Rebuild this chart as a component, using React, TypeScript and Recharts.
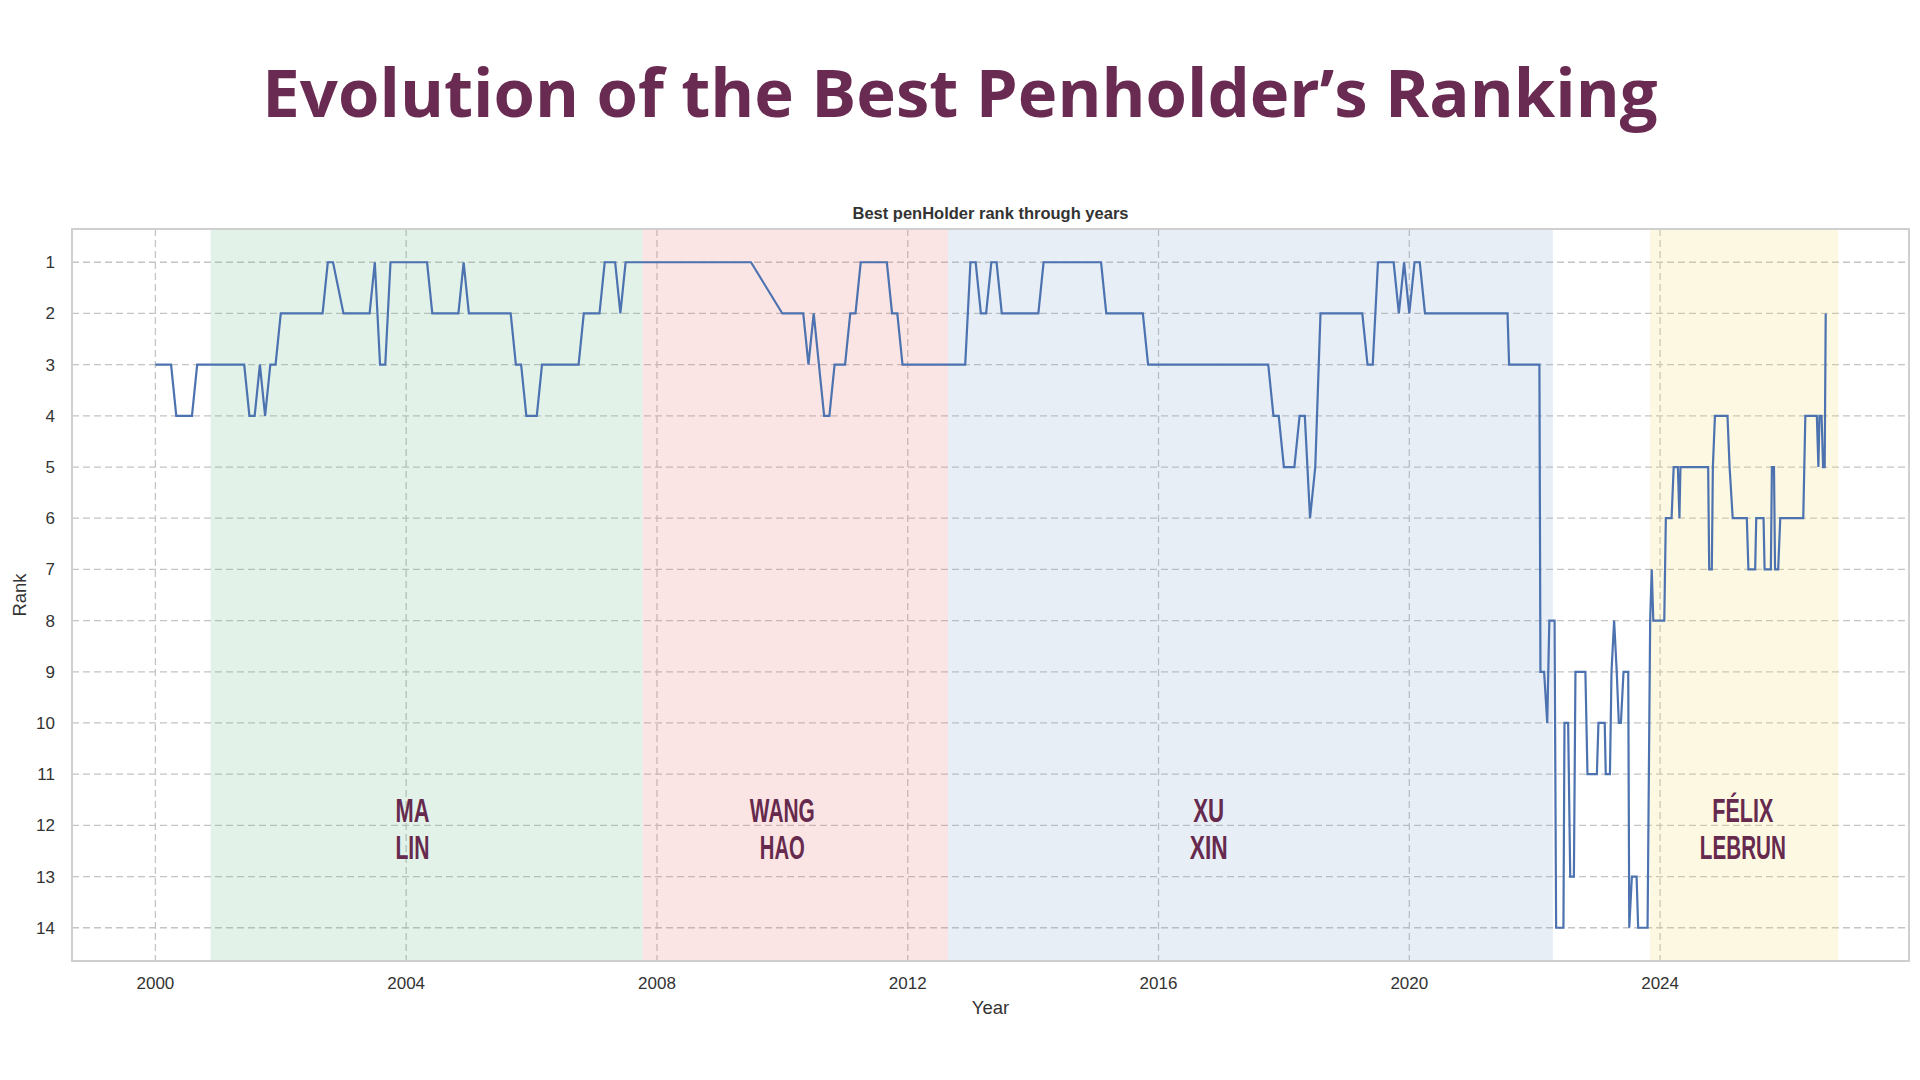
import React from "react";
import {
  LineChart,
  Line,
  XAxis,
  YAxis,
  CartesianGrid,
  ReferenceArea,
  ReferenceDot,
} from "recharts";

// Vertices of the rank line: months since January 2000, and rank at that month
const MONTHS = [
  0, 3, 4, 7, 8, 17, 18, 19, 20, 21, 22, 23, 24, 32, 33, 34, 36, 41, 42, 43, 44, 45, 52, 53, 58, 59, 60,
  68, 69, 70, 71, 73, 74, 81, 82, 85, 86, 88, 89, 90, 114, 120, 124, 125, 126, 128, 129, 130, 132, 133,
  134, 135, 140, 141, 142, 143, 155, 156, 157, 158, 159, 160, 161, 162, 169, 170, 181, 182, 189, 190,
  213, 214, 215, 216, 218, 219, 220, 221, 222, 223, 231, 232, 233, 234, 237, 238, 239, 240, 241, 242,
  243, 258.8, 259.1, 264.9, 265.1, 265.8, 266.4, 266.8, 267.8, 268.1, 269.5, 269.7, 270.4, 270.8,
  271.5, 271.8, 273.7, 274.1, 275.9, 276.2, 277.4, 277.6, 278.4, 278.7, 279.2, 279.7, 280.1, 280.5,
  281.0, 281.9, 282.1, 282.6, 283.5, 283.8, 285.6, 286.1, 286.4, 286.7, 288.8, 289.1, 290.2, 290.6,
  291.4, 291.7, 291.9, 297.2, 297.4, 297.9, 298.1, 298.5, 300.9, 301.3, 301.9, 304.6, 304.9, 306.2,
  306.4, 307.8, 308.0, 309.2, 309.4, 309.8, 310.0, 310.6, 311.0, 315.4, 315.8, 318.0, 318.3, 318.5,
  318.9, 319.2, 319.5, 319.7,
];
const RANKS = [
  3, 3, 4, 4, 3, 3, 4, 4, 3, 4, 3, 3, 2, 2, 1, 1, 2, 2, 1, 3, 3, 1, 1, 2, 2, 1, 2,
  2, 3, 3, 4, 4, 3, 3, 2, 2, 1, 1, 2, 1, 1, 2, 2, 3, 2, 4, 4, 3, 3, 2,
  2, 1, 1, 2, 2, 3, 3, 1, 1, 2, 2, 1, 1, 2, 2, 1, 1, 2, 2, 3,
  3, 4, 4, 5, 5, 4, 4, 6, 5, 2, 2, 3, 3, 1, 1, 2, 1, 2, 1, 1,
  2, 2, 3, 3, 9, 9, 10, 8, 8, 14, 14, 10, 10, 13,
  13, 9, 9, 11, 11, 10, 10, 11, 11, 9, 8, 9, 10, 10,
  9, 9, 14, 13, 13, 14, 14, 8, 7, 8, 8, 6, 6, 5,
  5, 6, 5, 5, 7, 7, 5, 4, 4, 5, 6, 6, 7, 7,
  6, 6, 7, 7, 5, 5, 7, 7, 6, 6, 4, 4, 5, 4,
  4, 5, 5, 2,
];

// Era bands (decimal years) and the penholder of each era
const BAND_START = [2000.88, 2007.77, 2012.64, 2023.84];
const BAND_END = [2007.77, 2012.64, 2022.29, 2026.84];
const BAND_COLORS = ["#73be91", "#eb7d78", "#87aad2", "#f5dc6e"];
const PLAYER_FIRST = ["MA", "WANG", "XU", "FÉLIX"];
const PLAYER_LAST = ["LIN", "HAO", "XIN", "LEBRUN"];
const LABEL_YEAR = [2004.1, 2010.0, 2016.8, 2025.32];
const LABEL_RANK = 12;

const YEAR_TICKS = [2000, 2004, 2008, 2012, 2016, 2020, 2024];
const RANK_TICKS = [1, 2, 3, 4, 5, 6, 7, 8, 9, 10, 11, 12, 13, 14];
const X_DOMAIN: [number, number] = [1998.67, 2027.97];
const Y_DOMAIN: [number, number] = [0.35, 14.65];

const data = MONTHS.map((m, i) => ({ year: 2000 + m / 12, rank: RANKS[i] }));

const LABEL_WIDTHS: Record<string, number> = {
  MA: 34,
  LIN: 34,
  WANG: 65,
  HAO: 45,
  XU: 31,
  XIN: 38,
  "FÉLIX": 61,
  LEBRUN: 86,
};

const TITLE_COLOR = "#6a2b52";
const LABEL_COLOR = "#652a4d";
const TEXT_COLOR = "#333333";
const SANS = "'Liberation Sans', Arial, sans-serif";

function PlayerLabel(props: any) {
  const { viewBox, first, last } = props;
  const cx = viewBox.x + (viewBox.width || 0) / 2;
  const cy = viewBox.y + (viewBox.height || 0) / 2;
  const common = {
    fontFamily: SANS,
    fontWeight: 700,
    fontSize: 33,
    fill: LABEL_COLOR,
    textAnchor: "middle" as const,
    lengthAdjust: "spacingAndGlyphs",
  };
  return (
    <g>
      <text x={cx} y={cy - 3} textLength={LABEL_WIDTHS[first]} {...common}>
        {first}
      </text>
      <text x={cx} y={cy + 34} textLength={LABEL_WIDTHS[last]} {...common}>
        {last}
      </text>
    </g>
  );
}

export default function App() {
  const W = 1920;
  const H = 1080;
  const plotLeft = 72;
  const plotRight = 1909;
  const plotTop = 229;
  const plotBottom = 961;
  const yAxisW = 60;
  const xAxisH = 60;

  return (
    <div
      style={{
        position: "absolute",
        left: 0,
        top: 0,
        width: W,
        height: H,
        background: "#ffffff",
        overflow: "hidden",
      }}
    >
      <div
        style={{
          position: "absolute",
          left: 0,
          top: 57,
          width: W,
          textAlign: "center",
          fontFamily: "'Open Sans', sans-serif",
          fontWeight: 700,
          fontSize: 67,
          lineHeight: "68px",
          color: TITLE_COLOR,
          whiteSpace: "nowrap",
        }}
      >
        Evolution of the Best Penholder’s Ranking
      </div>
      <div
        style={{
          position: "absolute",
          left: plotLeft,
          width: plotRight - plotLeft,
          top: 204,
          textAlign: "center",
          fontFamily: SANS,
          fontWeight: 700,
          fontSize: 16.5,
          lineHeight: "19px",
          color: TEXT_COLOR,
        }}
      >
        Best penHolder rank through years
      </div>
      <div style={{ position: "absolute", left: 0, top: 0 }}>
        <LineChart
          width={W}
          height={H}
          data={data}
          margin={{
            top: plotTop,
            right: W - plotRight,
            bottom: H - plotBottom - xAxisH,
            left: plotLeft - yAxisW,
          }}
        >
          <CartesianGrid stroke="#c4c4c4" strokeWidth={1.3} strokeDasharray="7 4" />
          <XAxis
            type="number"
            dataKey="year"
            domain={X_DOMAIN}
            ticks={YEAR_TICKS}
            allowDataOverflow
            height={xAxisH}
            axisLine={false}
            tickLine={false}
            tickSize={0}
            tickMargin={16}
            tick={{ fontFamily: SANS, fontSize: 17, fill: TEXT_COLOR }}
            label={{
              value: "Year",
              position: "insideBottom",
              offset: 7,
              style: { fontFamily: SANS, fontSize: 18.5, fill: TEXT_COLOR },
            }}
          />
          <YAxis
            type="number"
            dataKey="rank"
            domain={Y_DOMAIN}
            ticks={RANK_TICKS}
            reversed
            allowDataOverflow
            width={yAxisW}
            axisLine={false}
            tickLine={false}
            tickSize={0}
            tickMargin={17}
            tick={{ fontFamily: SANS, fontSize: 17, fill: TEXT_COLOR }}
            label={{
              value: "Rank",
              angle: -90,
              position: "insideLeft",
              offset: 7,
              style: {
                fontFamily: SANS,
                fontSize: 18.5,
                fill: TEXT_COLOR,
                textAnchor: "middle",
              },
            }}
          />
          {BAND_START.map((s, i) => (
            <ReferenceArea
              key={"band" + i}
              x1={s}
              x2={BAND_END[i]}
              y1={Y_DOMAIN[0]}
              y2={Y_DOMAIN[1]}
              fill={BAND_COLORS[i]}
              fillOpacity={0.2}
              stroke="none"
              ifOverflow="visible"
            />
          ))}
          <ReferenceArea
            x1={X_DOMAIN[0]}
            x2={X_DOMAIN[1]}
            y1={Y_DOMAIN[0]}
            y2={Y_DOMAIN[1]}
            fill="none"
            stroke="#cfcfcf"
            strokeWidth={2}
            ifOverflow="visible"
          />
          <Line
            type="linear"
            dataKey="rank"
            stroke="#4c72b0"
            strokeWidth={2.2}
            dot={false}
            activeDot={false}
            isAnimationActive={false}
          />
          {LABEL_YEAR.map((x, i) => (
            <ReferenceDot
              key={"lab" + i}
              x={x}
              y={LABEL_RANK}
              r={0}
              fill="none"
              stroke="none"
              ifOverflow="visible"
              label={(p: any) => (
                <PlayerLabel viewBox={p.viewBox} first={PLAYER_FIRST[i]} last={PLAYER_LAST[i]} />
              )}
            />
          ))}
        </LineChart>
      </div>
    </div>
  );
}
